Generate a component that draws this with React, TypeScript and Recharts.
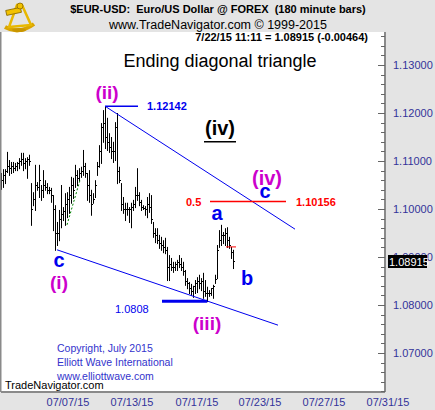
import React from 'react';
import { ComposedChart, Bar, XAxis, YAxis, CartesianGrid, ReferenceLine } from 'recharts';

// 180 minute EUR/USD bars
const barHigh = [
  1.1075, 1.1083, 1.1083, 1.1119, 1.1102, 1.1098, 1.1098, 1.1096, 1.1098, 1.1106,
  1.1117, 1.1117, 1.1106, 1.1108, 1.1113, 1.1054, 1.1035, 1.1092, 1.1056, 1.1092,
  1.1050, 1.1081, 1.1060, 1.1054, 1.1046, 1.1044, 1.1029, 1.1008, 1.0973, 1.0998,
  1.1050, 1.1004, 1.1033, 1.1035, 1.1046, 1.1067, 1.1065, 1.1092, 1.1081, 1.1085,
  1.1088, 1.1123, 1.1096, 1.1075, 1.1081, 1.1040, 1.1033, 1.1060, 1.1098, 1.1133,
  1.1179, 1.1206, 1.12142, 1.1190, 1.1158, 1.1150, 1.1140, 1.1181, 1.1200, 1.1088,
  1.1054, 1.1025, 1.1013, 1.1013, 1.1004, 1.1013, 1.1019, 1.1046, 1.1085, 1.1035,
  1.1019, 1.1008, 1.1006, 1.1025, 1.1033, 1.1029, 1.0973, 1.0960, 1.0960, 1.0946,
  1.0942, 1.0935, 1.0940, 1.0921, 1.0904, 1.0898, 1.0890, 1.0890, 1.0894, 1.0904,
  1.0898, 1.0890, 1.0873, 1.0856, 1.0848, 1.0844, 1.0840, 1.0852, 1.0858, 1.0863,
  1.0856, 1.0867, 1.0852, 1.0838, 1.0831, 1.0835, 1.0842, 1.0863, 1.0925, 1.0956,
  1.0967, 1.0952, 1.0960, 1.0962, 1.0942, 1.0921, 1.0915,
];
const barLow = [
  1.1042, 1.1046, 1.1054, 1.1077, 1.1071, 1.1075, 1.1077, 1.1081, 1.1081, 1.1085,
  1.1092, 1.1081, 1.1085, 1.1065, 1.1092, 1.0967, 1.1008, 1.0998, 1.1040, 1.1025,
  1.1019, 1.1025, 1.1040, 1.1033, 1.1033, 1.1015, 1.0956, 1.0915, 1.0925, 1.0935,
  1.0962, 1.0977, 1.0967, 1.0983, 1.0992, 1.1013, 1.1023, 1.1046, 1.1050, 1.1060,
  1.1067, 1.1071, 1.1067, 1.1019, 1.1015, 1.0988, 1.1013, 1.1025, 1.1071, 1.1088,
  1.1096, 1.1140, 1.1127, 1.1123, 1.1119, 1.1106, 1.1098, 1.1102, 1.1054, 1.1056,
  1.0998, 1.0992, 1.0977, 1.0988, 1.0973, 1.0962, 1.0998, 1.1004, 1.1019, 1.1008,
  1.0998, 1.1000, 1.0988, 1.0983, 1.0994, 1.0971, 1.0942, 1.0931, 1.0929, 1.0919,
  1.0915, 1.0910, 1.0908, 1.0852, 1.0852, 1.0873, 1.0869, 1.0873, 1.0873, 1.0879,
  1.0873, 1.0863, 1.0842, 1.0835, 1.0825, 1.0821, 1.0817, 1.0825, 1.0827, 1.0835,
  1.0831, 1.0815, 1.0819, 1.0808, 1.0819, 1.0821, 1.0815, 1.0846, 1.0856, 1.0921,
  1.0925, 1.0929, 1.0925, 1.0921, 1.0919, 1.0898, 1.0877,
];
const barClose = [
  1.1060, 1.1070, 1.1080, 1.1090, 1.1085, 1.1090, 1.1085, 1.1090, 1.1095, 1.1100,
  1.1105, 1.1095, 1.1100, 1.1105, 1.1100, 1.1000, 1.1020, 1.1050, 1.1045, 1.1060,
  1.1040, 1.1050, 1.1045, 1.1040, 1.1040, 1.1030, 1.1000, 1.0950, 1.0950, 1.0980,
  1.0990, 1.0995, 1.1010, 1.1020, 1.1030, 1.1050, 1.1040, 1.1070, 1.1065, 1.1075,
  1.1080, 1.1090, 1.1075, 1.1050, 1.1030, 1.1010, 1.1020, 1.1050, 1.1090, 1.1120,
  1.1170, 1.1180, 1.1150, 1.1140, 1.1130, 1.1120, 1.1120, 1.1170, 1.1080, 1.1060,
  1.1010, 1.1000, 1.1000, 1.1000, 1.1000, 1.1005, 1.1010, 1.1030, 1.1030, 1.1015,
  1.1005, 1.1003, 1.1000, 1.1010, 1.1005, 1.0980, 1.0950, 1.0945, 1.0935, 1.0930,
  1.0925, 1.0920, 1.0915, 1.0880, 1.0885, 1.0880, 1.0880, 1.0885, 1.0890, 1.0885,
  1.0880, 1.0870, 1.0850, 1.0845, 1.0835, 1.0830, 1.0840, 1.0845, 1.0850, 1.0845,
  1.0850, 1.0830, 1.0825, 1.0825, 1.0825, 1.0835, 1.0840, 1.0855, 1.0915, 1.0935,
  1.0945, 1.0945, 1.0950, 1.0935, 1.0925, 1.0910, 1.08915,
];

const xTickIdx = [33, 65, 97.5, 129, 161, 193];
const xTickLabels = ['07/07/15', '07/13/15', '07/17/15', '07/23/15', '07/27/15', '07/31/15'];
const yTicks = [
  1.062, 1.064, 1.066, 1.068, 1.07, 1.072, 1.074, 1.076, 1.078, 1.08,
  1.082, 1.084, 1.086, 1.088, 1.09, 1.092, 1.094, 1.096, 1.098, 1.1,
  1.102, 1.104, 1.106, 1.108, 1.11, 1.112, 1.114, 1.116, 1.118, 1.12,
  1.122, 1.124, 1.126, 1.128, 1.13, 1.132, 1.134, 1.136,
];

// wave annotation lines (bar index, price)
const upperTrend = [{ x: 51.5, y: 1.12142 }, { x: 146.5, y: 1.0958 }];
const lowerTrend = [{ x: 27.5, y: 1.0915 }, { x: 138, y: 1.0758 }];
const peakLine = [{ x: 51.5, y: 1.12142 }, { x: 68, y: 1.12142 }];
const fibLine = [{ x: 104, y: 1.10156 }, { x: 142, y: 1.10156 }];
const lowLine = [{ x: 80, y: 1.0808 }, { x: 102.5, y: 1.0808 }];
const greenLine = [{ x: 32.5, y: 1.0967 }, { x: 39, y: 1.106 }];
const prevCloseLine = [{ x: 112, y: 1.0921 }, { x: 117, y: 1.0921 }];

const data = barHigh.map((h, i) => ({ idx: i, high: h, low: barLow[i], close: barClose[i] }));

const FONT = "Arial, 'Liberation Sans', sans-serif";
const AXIS_TEXT = '#33339a';

const OhlcShape = (props: any) => {
  const { x, y, width, height, payload } = props;
  if (!payload || height == null) return null;
  const top = Math.min(y, y + height);
  const bot = Math.max(y, y + height);
  const cx = Math.floor(x + width / 2) + 0.5;
  const span = payload.high - payload.low || 1;
  const yc = top + ((payload.high - payload.close) / span) * (bot - top);
  return (
    <g>
      <line x1={cx} x2={cx} y1={top} y2={bot + 1} stroke="#000" strokeWidth={1} />
      <line x1={cx} x2={cx + 1.5} y1={Math.round(yc) + 0.5} y2={Math.round(yc) + 0.5} stroke="#000" strokeWidth={1} />
    </g>
  );
};

const YTick = (props: any) => {
  const { x, y, payload } = props;
  const v = payload.value;
  const major = Math.abs(v * 100 - Math.round(v * 100)) < 1e-6;
  const yy = Math.round(y) + 0.5;
  return (
    <g>
      <line x1={x - (major ? 7 : 4)} x2={x} y1={yy} y2={yy} stroke="#666" strokeWidth={1} />
      {major && (
        <text x={x + 8} y={y + 4} fontSize={11} fontFamily={FONT} fill={AXIS_TEXT}>
          {v.toFixed(5)}
        </text>
      )}
    </g>
  );
};

const XTick = (props: any) => {
  const { x, y, payload } = props;
  const i = xTickIdx.indexOf(payload.value);
  return (
    <text x={x} y={y + 12} textAnchor="middle" fontSize={11} fontFamily={FONT} fill={AXIS_TEXT}>
      {xTickLabels[i]}
    </text>
  );
};

const seg = (s: { x: number; y: number }[]) => [s[0], s[1]] as any;

export default function App() {
  return (
    <div style={{ position: 'absolute', left: 0, top: 0, width: 435, height: 410, background: '#e4e4e4', overflow: 'hidden' }}>
      <ComposedChart width={435} height={410} data={data} margin={{ top: 32, right: 2, bottom: 0, left: 1 }}>
        <CartesianGrid fill="#fff" stroke="none" horizontal={false} vertical={false} />
        <XAxis
          dataKey="idx"
          type="number"
          domain={[-0.5, 191.5]}
          ticks={xTickIdx}
          interval={0}
          height={18}
          tickLine={false}
          tickSize={0}
          tick={<XTick />}
          axisLine={{ stroke: '#8a8a8a', strokeWidth: 2 }}
          allowDataOverflow
        />
        <YAxis
          orientation="right"
          type="number"
          domain={[1.061875, 1.136875]}
          ticks={yTicks}
          interval={0}
          width={48}
          tickLine={false}
          tickSize={0}
          tickMargin={0}
          tick={<YTick />}
          axisLine={{ stroke: '#8a8a8a', strokeWidth: 2 }}
          allowDataOverflow
        />
        <ReferenceLine segment={seg(upperTrend)} stroke="#0000ee" strokeWidth={1} />
        <ReferenceLine segment={seg(lowerTrend)} stroke="#0000ee" strokeWidth={1} />
        <ReferenceLine segment={seg(peakLine)} stroke="#0000ee" strokeWidth={1.5} />
        <ReferenceLine segment={seg(fibLine)} stroke="#ff0000" strokeWidth={1.5} />
        <ReferenceLine segment={seg(lowLine)} stroke="#0000ee" strokeWidth={3} />
        <ReferenceLine segment={seg(greenLine)} stroke="#008000" strokeWidth={1} strokeDasharray="2 2" />
        <Bar
          dataKey={(d: any) => [d.low, d.high]}
          barSize={1}
          shape={OhlcShape}
          isAnimationActive={false}
        />
        <ReferenceLine segment={seg(prevCloseLine)} stroke="#ff0000" strokeWidth={1} />
      </ComposedChart>

      <svg width={435} height={410} style={{ position: 'absolute', left: 0, top: 0, pointerEvents: 'none' }} fontFamily={FONT}>
        {/* logo */}
        <g>
          <path d="M5 27 Q19 35 34 24" stroke="#d9a400" strokeWidth={4} fill="none" />
          <polygon points="17,5 22,5 31,25 9,27" fill="none" stroke="#e8b800" strokeWidth={2.5} />
          <rect x={6} y={9} width={15} height={5} fill="#f2c200" stroke="#8a6a00" strokeWidth={0.8} transform="rotate(-12 13 11)" />
          <circle cx={20} cy={6} r={3} fill="#f2c200" stroke="#8a6a00" strokeWidth={0.8} />
          <ellipse cx={19} cy={30} rx={7} ry={2} fill="#c99600" />
        </g>
        <rect x={0} y={32} width={1.5} height={360} fill="#8a8a8a" />

        <text x={218} y={13} textAnchor="middle" fontSize={11} fontWeight="bold" style={{ whiteSpace: 'pre' }}>
          {'$EUR-USD:  Euro/US Dollar @ FOREX  (180 minute bars)'}
        </text>
        <text x={218} y={29} textAnchor="middle" fontSize={12.5}>www.TradeNavigator.com © 1999-2015</text>
        <text x={368} y={41} textAnchor="end" fontSize={11} fontWeight="bold">7/22/15 11:11 = 1.08915 (-0.00464)</text>
        <text x={220} y={67} textAnchor="middle" fontSize={18}>Ending diagonal triangle</text>

        <text x={107} y={99} textAnchor="middle" fontSize={19} fontWeight="bold" fill="#cc00cc">(ii)</text>
        <text x={147} y={110} fontSize={11} fontWeight="bold" fill="#0000ee">1.12142</text>
        <text x={220} y={135} textAnchor="middle" fontSize={20} fontWeight="bold" fill="#000">(iv)</text>
        <rect x={204} y={141} width={32} height={1.5} fill="#000" />
        <text x={267} y={185} textAnchor="middle" fontSize={20} fontWeight="bold" fill="#cc00cc">(iv)</text>
        <text x={265} y={198} textAnchor="middle" fontSize={20} fontWeight="bold" fill="#0000ee">c</text>
        <text x={186} y={206} fontSize={11} fontWeight="bold" fill="#ff0000">0.5</text>
        <text x={296} y={206} fontSize={11} fontWeight="bold" fill="#ff0000">1.10156</text>
        <text x={217} y={220} textAnchor="middle" fontSize={20} fontWeight="bold" fill="#0000ee">a</text>
        <text x={247} y={285} textAnchor="middle" fontSize={20} fontWeight="bold" fill="#0000ee">b</text>
        <text x={59} y={267} textAnchor="middle" fontSize={20} fontWeight="bold" fill="#0000ee">c</text>
        <text x={59} y={289} textAnchor="middle" fontSize={19} fontWeight="bold" fill="#cc00cc">(i)</text>
        <text x={115} y={313} fontSize={11} fill="#0000ee">1.0808</text>
        <text x={207} y={330} textAnchor="middle" fontSize={19} fontWeight="bold" fill="#cc00cc">(iii)</text>

        <text x={57} y={352} fontSize={10.5} fill="#3333cc">Copyright, July 2015</text>
        <text x={57} y={366} fontSize={10.5} fill="#3333cc">Elliott Wave International</text>
        <text x={57} y={380} fontSize={10.5} fill="#3333cc">www.elliottwave.com</text>
        <text x={5} y={389} fontSize={11} fill="#000">TradeNavigator.com</text>

        <rect x={388} y={255} width={39} height={13} fill="#000" />
        <text x={389} y={265.5} fontSize={11} fill="#fff">1.08915</text>
      </svg>
    </div>
  );
}
